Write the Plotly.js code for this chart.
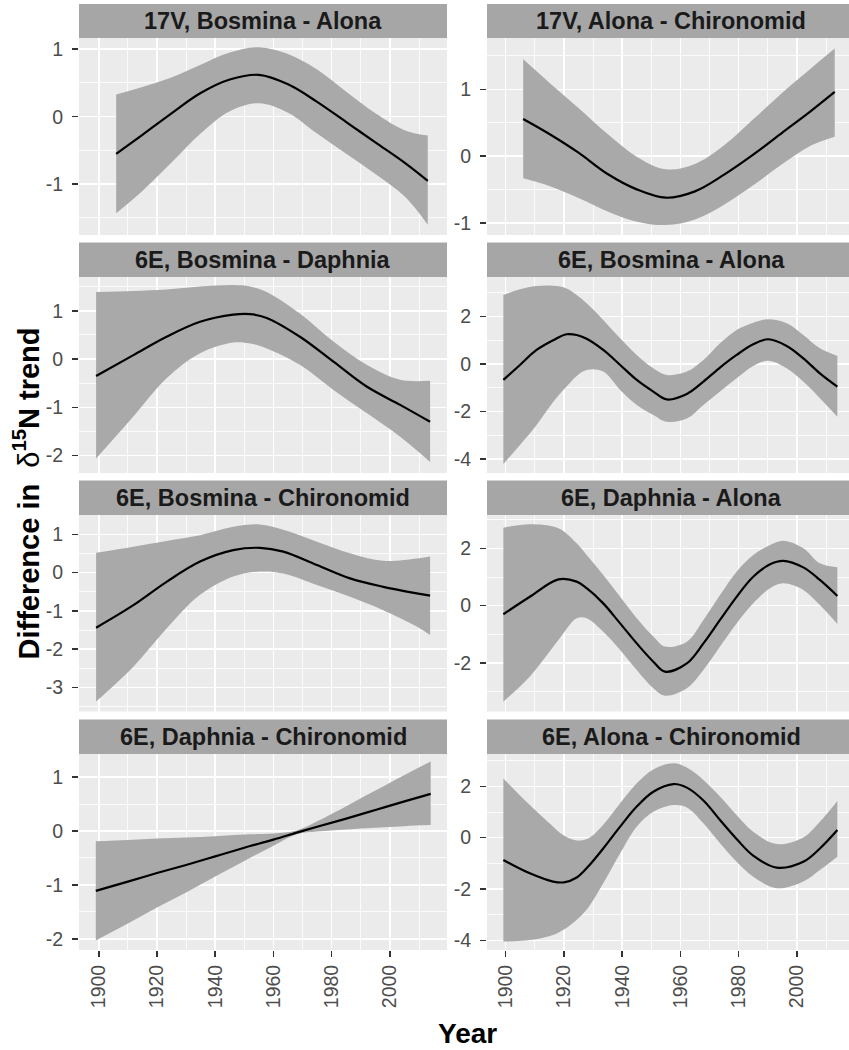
<!DOCTYPE html>
<html><head><meta charset="utf-8">
<script src="https://cdn.plot.ly/plotly-3.0.1.min.js"></script>
<style>html,body{margin:0;padding:0;background:#fff}</style>
</head><body><div id="chart" style="width:849px;height:1050px"></div>
<script>
// ---------- data ----------
const panelTitles = ["17V, Bosmina - Alona", "17V, Alona - Chironomid", "6E, Bosmina - Daphnia", "6E, Bosmina - Alona",
  "6E, Bosmina - Chironomid", "6E, Daphnia - Alona", "6E, Daphnia - Chironomid", "6E, Alona - Chironomid"];
const xTitle = "Year";
const yTitle = "Difference in\u00a0 <span style=\"font-weight:normal\">δ</span><sup>15</sup>N trend";

const p1Years = [1906, 1915, 1925, 1935, 1945, 1955, 1965, 1975, 1985, 1995, 2005, 2013];
const p1Fit   = [-0.55, -0.27, 0.05, 0.35, 0.55, 0.62, 0.48, 0.22, -0.08, -0.38, -0.68, -0.95];
const p1Upper = [0.33, 0.44, 0.58, 0.77, 0.95, 1.03, 0.93, 0.70, 0.37, 0.05, -0.2, -0.28];
const p1Lower = [-1.43, -1.1, -0.68, -0.25, 0.08, 0.2, 0.06, -0.25, -0.55, -0.85, -1.18, -1.6];
const p1Ticks = [-1, 0, 1];

const p2Years = [1906, 1915, 1925, 1935, 1945, 1955, 1965, 1975, 1985, 1995, 2005, 2013];
const p2Fit   = [0.555, 0.33, 0.05, -0.27, -0.5, -0.625, -0.53, -0.28, 0.02, 0.35, 0.68, 0.96];
const p2Upper = [1.45, 1.1, 0.72, 0.33, -0.01, -0.2, -0.12, 0.16, 0.55, 0.95, 1.32, 1.61];
const p2Lower = [-0.335, -0.45, -0.63, -0.83, -0.985, -1.035, -0.95, -0.73, -0.44, -0.12, 0.16, 0.29];
const p2Ticks = [-1, 0, 1];

const p3Years = [1899.1, 1911.9, 1923.3, 1934.8, 1946.2, 1952.0, 1957.7, 1969.1, 1980.6, 1992.0, 2003.5, 2013.8];
const p3Fit   = [-0.35, 0.08, 0.46, 0.77, 0.92, 0.93, 0.85, 0.46, -0.055, -0.57, -0.95, -1.30];
const p3Upper = [1.39, 1.41, 1.44, 1.5, 1.53, 1.5, 1.39, 0.94, 0.36, -0.12, -0.43, -0.45];
const p3Lower = [-2.06, -1.19, -0.4, 0.12, 0.34, 0.32, 0.22, -0.12, -0.64, -1.12, -1.61, -2.13];
const p3Ticks = [-2, -1, 0, 1];

const p4Years = [1899.2, 1904.9, 1910.6, 1916.3, 1920.9, 1924.4, 1927.8, 1933.5, 1939.3, 1945.0, 1950.7, 1955.3, 1962.2, 1967.9, 1973.6, 1979.3, 1985.0, 1990.2, 1996.5, 2002.2, 2007.9, 2013.9];
const p4Fit   = [-0.67, -0.04, 0.59, 1.0, 1.25, 1.22, 1.06, 0.59, -0.04, -0.67, -1.16, -1.49, -1.26, -0.74, -0.15, 0.38, 0.83, 1.04, 0.76, 0.24, -0.39, -0.95];
const p4Upper = [2.90, 3.14, 3.28, 3.29, 3.18, 2.90, 2.55, 1.85, 1.08, 0.38, -0.18, -0.46, -0.32, 0.17, 0.87, 1.43, 1.74, 1.88, 1.71, 1.22, 0.66, 0.34];
const p4Lower = [-4.21, -3.41, -2.57, -1.6, -0.95, -0.5, -0.25, -0.32, -1.09, -1.72, -2.14, -2.43, -2.29, -1.72, -1.16, -0.60, -0.08, 0.14, -0.18, -0.74, -1.44, -2.22];
const p4Ticks = [-4, -2, 0, 2];

const p5Years = [1899.1, 1911.9, 1923.3, 1934.8, 1946.2, 1955.4, 1963.4, 1974.9, 1986.3, 1997.7, 2009.2, 2013.8];
const p5Fit   = [-1.44, -0.85, -0.24, 0.29, 0.59, 0.65, 0.55, 0.2, -0.15, -0.37, -0.54, -0.60];
const p5Upper = [0.52, 0.68, 0.83, 0.98, 1.2, 1.26, 1.12, 0.81, 0.51, 0.31, 0.37, 0.42];
const p5Lower = [-3.37, -2.46, -1.46, -0.58, -0.1, 0.03, -0.02, -0.32, -0.63, -0.98, -1.41, -1.63];
const p5Ticks = [-3, -2, -1, 0, 1];

const p6Years = [1899.2, 1908.3, 1918.1, 1924.4, 1927.8, 1933.5, 1939.3, 1945.0, 1950.7, 1954.7, 1962.2, 1967.9, 1973.6, 1979.3, 1985.0, 1990.8, 1995.3, 2002.2, 2007.9, 2013.9];
const p6Fit   = [-0.30, 0.31, 0.92, 0.84, 0.61, 0.08, -0.62, -1.32, -1.96, -2.31, -2.02, -1.32, -0.50, 0.31, 1.01, 1.45, 1.57, 1.34, 0.90, 0.34];
const p6Upper = [2.73, 2.85, 2.71, 2.18, 1.77, 1.07, 0.31, -0.44, -1.08, -1.43, -1.26, -0.50, 0.37, 1.19, 1.77, 2.12, 2.27, 2.01, 1.48, 1.34];
const p6Lower = [-3.36, -2.48, -1.20, -0.44, -0.44, -0.91, -1.55, -2.25, -2.89, -3.15, -2.89, -2.25, -1.43, -0.62, 0.08, 0.61, 0.78, 0.55, 0.02, -0.64];
const p6Ticks = [-2, 0, 2];

const p7Years = [1899, 1910, 1920, 1930, 1940, 1950, 1960, 1968, 1975, 1985, 1995, 2005, 2014];
const p7Fit   = [-1.11, -0.94, -0.78, -0.63, -0.47, -0.31, -0.16, -0.03, 0.08, 0.23, 0.39, 0.55, 0.69];
const p7Upper = [-0.19, -0.165, -0.14, -0.12, -0.095, -0.065, -0.047, 0.01, 0.18, 0.46, 0.75, 1.04, 1.29];
const p7Lower = [-2.03, -1.715, -1.42, -1.14, -0.845, -0.555, -0.273, -0.06, -0.01, 0.03, 0.06, 0.09, 0.11];
const p7Ticks = [-2, -1, 0, 1];

const p8Years = [1899.2, 1908.3, 1916.3, 1920.0, 1924.4, 1928.5, 1933.5, 1939.3, 1945.0, 1950.7, 1957.6, 1962.2, 1967.9, 1973.6, 1979.3, 1985.0, 1993.1, 2002.2, 2007.9, 2013.9];
const p8Fit   = [-0.87, -1.39, -1.71, -1.74, -1.55, -1.10, -0.42, 0.43, 1.21, 1.79, 2.09, 1.95, 1.45, 0.69, -0.05, -0.70, -1.17, -0.94, -0.42, 0.30];
const p8Upper = [2.31, 1.27, 0.43, 0.08, -0.11, -0.02, 0.50, 1.34, 2.12, 2.66, 2.90, 2.73, 2.25, 1.60, 0.88, 0.23, -0.25, 0.01, 0.62, 1.43];
const p8Lower = [-4.05, -3.99, -3.79, -3.58, -3.20, -2.70, -1.78, -0.61, 0.43, 1.01, 1.27, 1.18, 0.56, -0.22, -0.94, -1.52, -1.97, -1.71, -1.26, -0.74];
const p8Ticks = [-4, -2, 0, 2];

// ---------- layout geometry ----------
const W = 849, H = 1050;
const panels = [
  {years: p1Years, fit: p1Fit, up: p1Upper, lo: p1Lower, ticks: p1Ticks, yr: [-1.753, 1.166]},
  {years: p2Years, fit: p2Fit, up: p2Upper, lo: p2Lower, ticks: p2Ticks, yr: [-1.184, 1.769]},
  {years: p3Years, fit: p3Fit, up: p3Upper, lo: p3Lower, ticks: p3Ticks, yr: [-2.36, 1.698]},
  {years: p4Years, fit: p4Fit, up: p4Upper, lo: p4Lower, ticks: p4Ticks, yr: [-4.584, 3.659]},
  {years: p5Years, fit: p5Fit, up: p5Upper, lo: p5Lower, ticks: p5Ticks, yr: [-3.63, 1.508]},
  {years: p6Years, fit: p6Fit, up: p6Upper, lo: p6Lower, ticks: p6Ticks, yr: [-3.703, 3.172]},
  {years: p7Years, fit: p7Fit, up: p7Upper, lo: p7Lower, ticks: p7Ticks, yr: [-2.208, 1.429]},
  {years: p8Years, fit: p8Fit, up: p8Upper, lo: p8Lower, ticks: p8Ticks, yr: [-4.377, 3.26]}
];
// pixel rows: [stripTop, panelTop, panelBottom]
const rowsPx = [[4, 38, 235], [242.5, 277, 473], [480.5, 515, 711.5], [719.5, 754, 950]];
// pixel columns: left, right, strip-text centre, x range
const colsPx = [
  {l: 79, r: 447, c: 263, range: [1893.23, 2019.6]},
  {l: 487, r: 849, c: 671, range: [1893.58, 2017.9]}
];

const FONT = "Liberation Sans, Arial, Helvetica, sans-serif";
const traces = [];
const layout = {
  width: W, height: H,
  margin: {l: 0, r: 0, t: 0, b: 0},
  paper_bgcolor: "#ffffff", plot_bgcolor: "#EBEBEB",
  showlegend: false,
  font: {family: FONT},
  shapes: [], annotations: []
};

panels.forEach((p, i) => {
  const n = i + 1;
  const row = Math.floor(i / 2), col = i % 2;
  const rp = rowsPx[row], cp = colsPx[col];
  const xa = "x" + (n === 1 ? "" : n), ya = "y" + (n === 1 ? "" : n);
  traces.push({x: p.years, y: p.lo, xaxis: xa, yaxis: ya, type: "scatter", mode: "lines",
    line: {width: 0, shape: "spline", color: "rgba(0,0,0,0)"}, hoverinfo: "skip"});
  traces.push({x: p.years, y: p.up, xaxis: xa, yaxis: ya, type: "scatter", mode: "lines",
    line: {width: 0, shape: "spline", color: "rgba(0,0,0,0)"}, fill: "tonexty", fillcolor: "#A9A9A9", hoverinfo: "skip"});
  traces.push({x: p.years, y: p.fit, xaxis: xa, yaxis: ya, type: "scatter", mode: "lines",
    line: {width: 2.2, shape: "spline", color: "#000000"}});

  const bottom = row === 3;
  layout["xaxis" + (n === 1 ? "" : n)] = {
    domain: [cp.l / W, cp.r / W], range: cp.range, anchor: ya,
    tickmode: "linear", tick0: 1900, dtick: 20,
    showticklabels: bottom, ticks: bottom ? "outside" : "", ticklen: 6, tickwidth: 1.6, tickcolor: "#333333",
    tickangle: -90, tickfont: {size: 19.5, color: "#4D4D4D", family: FONT},
    showgrid: true, gridcolor: "#FFFFFF", gridwidth: 1.6,
    minor: {tickmode: "linear", tick0: 1890, dtick: 20, showgrid: true, gridcolor: "#FFFFFF", gridwidth: 0.8, ticks: ""},
    zeroline: false, showline: false, fixedrange: true
  };
  const step = p.ticks[1] - p.ticks[0];
  layout["yaxis" + (n === 1 ? "" : n)] = {
    domain: [1 - rp[2] / H, 1 - rp[1] / H], range: p.yr, anchor: xa,
    tickmode: "array", tickvals: p.ticks, ticktext: p.ticks.map(String),
    ticks: "outside", ticklen: 6, tickwidth: 1.6, tickcolor: "#333333", ticklabelstandoff: 5,
    tickfont: {size: 19.5, color: "#4D4D4D", family: FONT},
    showgrid: true, gridcolor: "#FFFFFF", gridwidth: 1.6,
    minor: {tickmode: "linear", tick0: step / 2, dtick: step, showgrid: true, gridcolor: "#FFFFFF", gridwidth: 0.8, ticks: ""},
    zeroline: false, showline: false, fixedrange: true
  };
  layout.shapes.push({type: "rect", xref: "paper", yref: "paper", layer: "below",
    x0: cp.l / W, x1: cp.r / W, y0: 1 - rp[1] / H, y1: 1 - rp[0] / H,
    fillcolor: "#A6A6A6", line: {width: 0}});
  layout.annotations.push({xref: "paper", yref: "paper", x: cp.c / W, y: 1 - (rp[0] + rp[1]) / 2 / H,
    xanchor: "center", yanchor: "middle", showarrow: false, text: panelTitles[i],
    font: {size: 23.5, color: "#1A1A1A", family: FONT, weight: "bold"}});
});

layout.annotations.push({xref: "paper", yref: "paper", x: 467.5 / W, y: 1 - 1033 / H,
  xanchor: "center", yanchor: "middle", showarrow: false, text: xTitle,
  font: {size: 28, color: "#000000", family: FONT, weight: "bold"}});
layout.annotations.push({xref: "paper", yref: "paper", x: 26 / W, y: 1 - 493.5 / H,
  xanchor: "center", yanchor: "middle", showarrow: false, textangle: -90, text: yTitle,
  font: {size: 29, color: "#000000", family: FONT, weight: "bold"}});

Plotly.newPlot("chart", traces, layout, {staticPlot: true, displayModeBar: false});
</script>
</body></html>
